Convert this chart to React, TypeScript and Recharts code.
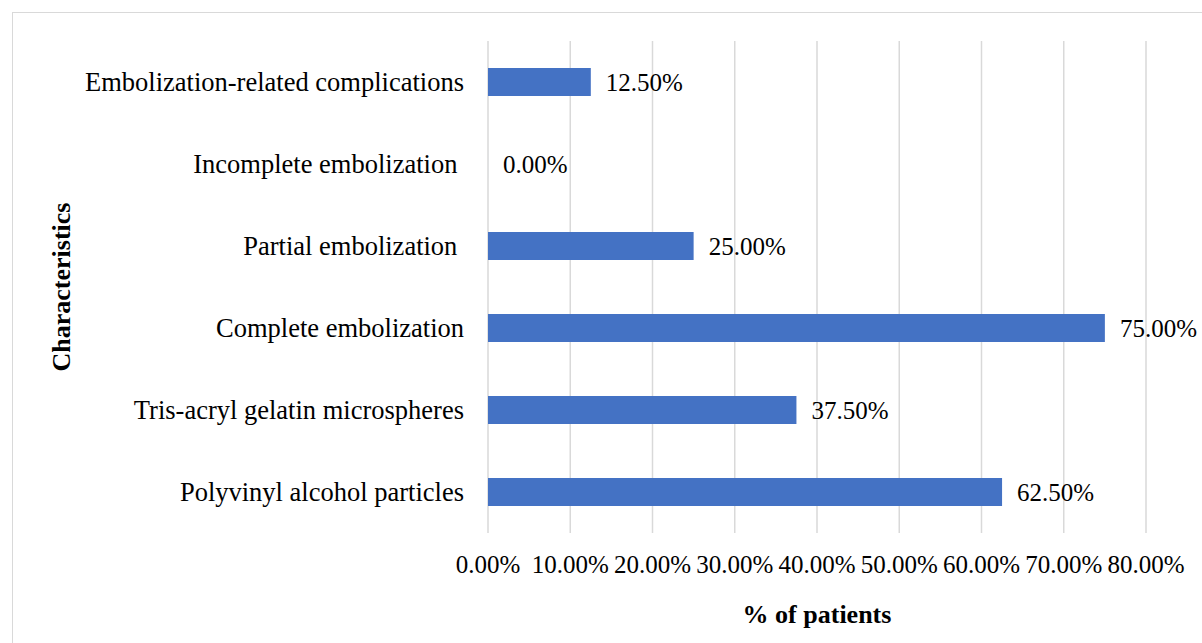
import React from 'react';
import { BarChart, Bar, XAxis, YAxis, CartesianGrid, LabelList, Label } from 'recharts';

const categories = [
  'Embolization-related complications',
  'Incomplete embolization ',
  'Partial embolization ',
  'Complete embolization',
  'Tris-acryl gelatin microspheres',
  'Polyvinyl alcohol particles',
];
const values = [12.5, 0, 25, 75, 37.5, 62.5];
const xTicks = [0, 10, 20, 30, 40, 50, 60, 70, 80];
const xTitle = '% of patients';
const yTitle = 'Characteristics';

const data = categories.map((c, i) => ({ name: c, value: values[i] }));
const FONT = '"Times New Roman", "Liberation Serif", serif';
const fmt = (v: number) => v.toFixed(2) + '%';

const YTick = (props: any) => {
  const { x, y, payload } = props;
  return (
    <text x={x - 24} y={y + 9} textAnchor="end" fontFamily={FONT} fontSize={26.5} fill="#000" style={{ whiteSpace: 'pre' }}>
      {payload.value}
    </text>
  );
};

const XTick = (props: any) => {
  const { x, y, payload } = props;
  return (
    <text x={x} y={y + 40} textAnchor="middle" fontFamily={FONT} fontSize={25} fill="#000">
      {fmt(payload.value)}
    </text>
  );
};

const ValueLabel = (props: any) => {
  const { x, y, width, height, value } = props;
  return (
    <text x={x + width + 15} y={y + height / 2 + 9} textAnchor="start" fontFamily={FONT} fontSize={25} fill="#000">
      {fmt(Number(value))}
    </text>
  );
};

export default function App() {
  return (
    <div style={{ position: 'absolute', left: 0, top: 0, width: 1202, height: 643, overflow: 'hidden', background: '#fff' }}>
      <div style={{ position: 'absolute', left: 12, top: 12, width: 1200, height: 640, border: '1px solid #d9d9d9', boxSizing: 'border-box' }} />
      <div style={{ position: 'absolute', left: 0, top: 0 }}>
        <BarChart
          width={1202}
          height={643}
          data={data}
          layout="vertical"
          margin={{ top: 41, right: 56, bottom: 0, left: 0 }}
          barSize={28}
        >
          <CartesianGrid horizontal={false} vertical={true} stroke="#d9d9d9" strokeWidth={1.5} />
          <XAxis
            type="number"
            domain={[0, 80]}
            ticks={xTicks}
            height={110}
            axisLine={false}
            tickLine={false}
            tickSize={0}
            tickMargin={0}
            tick={<XTick />}
            interval={0}
          >
            <Label
              content={(p: any) => {
                const vb = p.viewBox;
                return (
                  <text x={vb.x + vb.width / 2} y={vb.y + 90} textAnchor="middle" fontFamily={FONT} fontSize={26} fontWeight="bold" fill="#000">
                    {xTitle}
                  </text>
                );
              }}
            />
          </XAxis>
          <YAxis
            type="category"
            dataKey="name"
            width={488}
            axisLine={false}
            tickLine={false}
            tickSize={0}
            tickMargin={0}
            tick={<YTick />}
            interval={0}
          >
            <Label
              content={(p: any) => {
                const vb = p.viewBox;
                const cx = 61;
                const cy = vb.y + vb.height / 2;
                return (
                  <text x={cx} y={cy} dy={9} transform={`rotate(-90, ${cx}, ${cy})`} textAnchor="middle" fontFamily={FONT} fontSize={26} fontWeight="bold" fill="#000">
                    {yTitle}
                  </text>
                );
              }}
            />
          </YAxis>
          <Bar dataKey="value" fill="#4472C4" isAnimationActive={false} minPointSize={0.01}>
            <LabelList dataKey="value" content={<ValueLabel />} />
          </Bar>
        </BarChart>
      </div>
    </div>
  );
}
